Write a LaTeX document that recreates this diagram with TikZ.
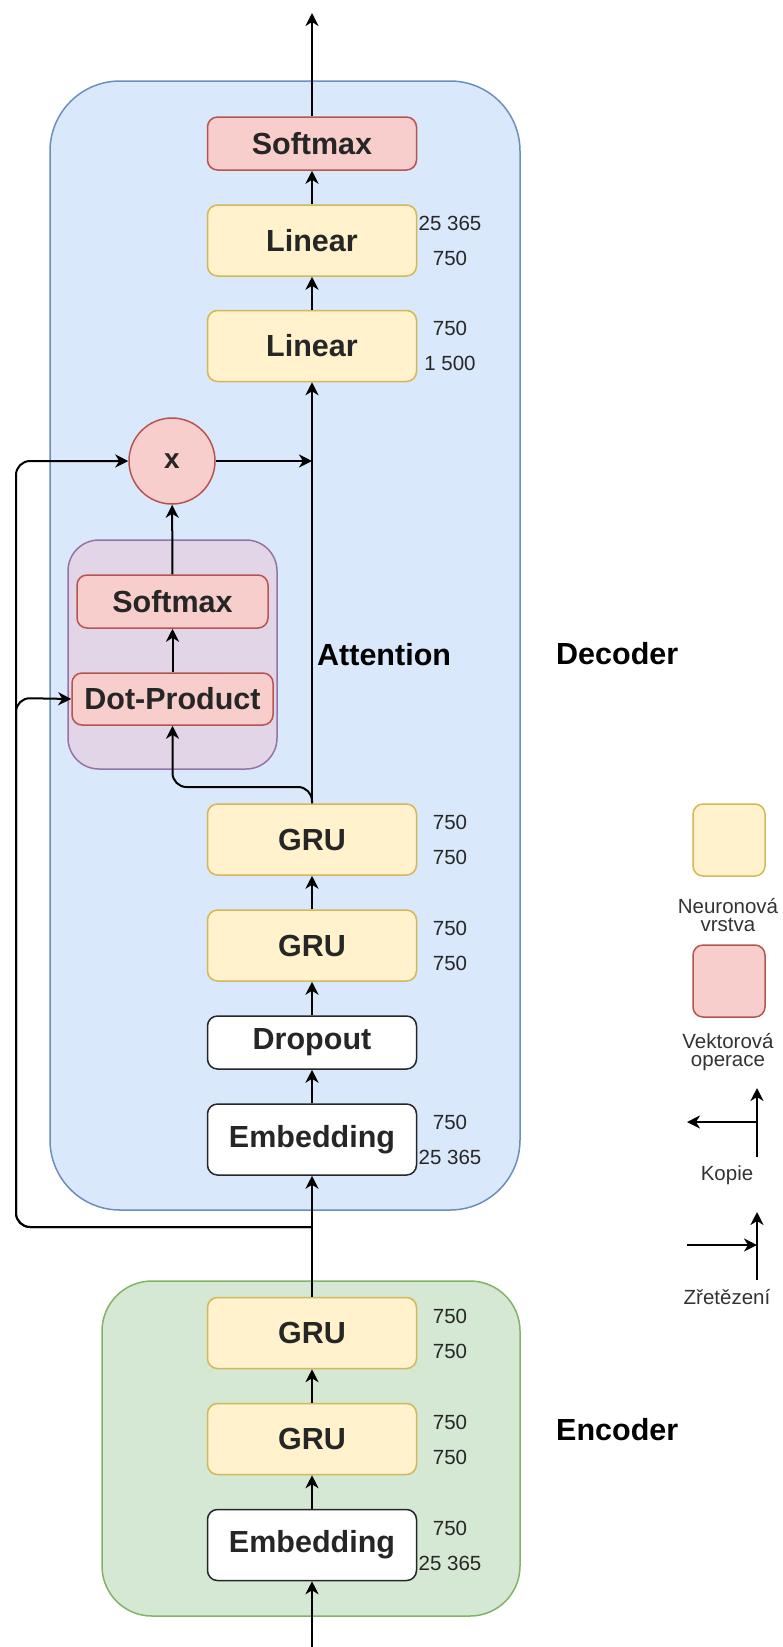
\documentclass[tikz,border=0pt]{standalone}
\usepackage{fontspec}
\setmainfont{Liberation Sans}
\usepackage{tikz}
\usetikzlibrary{arrows.meta}

\definecolor{decfill}{HTML}{DAE8FC}
\definecolor{decline}{HTML}{6C8EBF}
\definecolor{encfill}{HTML}{D5E8D4}
\definecolor{encline}{HTML}{82B366}
\definecolor{ylwfill}{HTML}{FFF2CC}
\definecolor{ylwline}{HTML}{D6B656}
\definecolor{redfill}{HTML}{F8CECC}
\definecolor{redline}{HTML}{B85450}
\definecolor{purfill}{HTML}{E1D5E7}
\definecolor{purline}{HTML}{9673A6}

\newcommand{\boxfont}{\fontsize{30.5}{36}\selectfont\bfseries}
\newcommand{\dimfont}{\fontsize{20.5}{18}\selectfont}

\tikzset{
  blk/.style={rounded corners=10pt, line width=1.5pt, inner sep=0pt, font=\boxfont, text=black!85},
  nnlayer/.style={blk, draw=ylwline, fill=ylwfill},
  vecop/.style={blk, draw=redline, fill=redfill},
  plainbox/.style={blk, draw=black!85, fill=white},
  wide/.style={minimum width=209pt, minimum height=71pt},
  flat/.style={minimum width=209pt, minimum height=53pt},
  dimlab/.style={font=\dimfont, align=center, inner sep=0pt, text=black!85},
  legtxt/.style={font=\dimfont, align=center, inner sep=0pt, text=black!80},
  arr/.style={line width=2pt, -{Stealth[length=13pt, width=13pt, inset=4pt]}},
}

\begin{document}
\begin{tikzpicture}[x=1pt, y=-1pt]
		\useasboundingbox (0,0) rectangle (783,1647);
		% containers
		\filldraw[fill=decfill, draw=decline, line width=1.5pt, rounded corners=70pt] (50,81) rectangle (520,1210);
		\filldraw[fill=encfill, draw=encline, line width=1.5pt, rounded corners=50pt] (102,1281) rectangle (520,1616);
		\filldraw[fill=purfill, draw=purline, line width=1.5pt, rounded corners=31pt] (68,540) rectangle (277,769);
		% decoder
		\node[vecop, flat] (smax) at (312,143.5) {Softmax};
		\node[nnlayer, wide] (lin1) at (312,240.5) {Linear};
		\node[nnlayer, wide] (lin2) at (312,346) {Linear};
		\node[vecop, circle, minimum size=86pt, font=\fontsize{28}{32}\selectfont\bfseries] (mul) at (172,461) {x};
		\node[vecop, minimum width=191pt, minimum height=53pt] (asmax) at (172.5,601.5) {Softmax};
		\node[vecop, minimum width=201pt, minimum height=52pt] (dotp) at (172.5,699) {Dot-Product};
		\node[nnlayer, wide] (dgru1) at (312,839.5) {GRU};
		\node[nnlayer, wide] (dgru2) at (312,945.5) {GRU};
		\node[plainbox, flat] (drop) at (312,1042.5) {Dropout};
		\node[plainbox, wide] (demb) at (312,1139.5) {Embedding};
		% encoder
		\node[nnlayer, wide] (egru1) at (312,1333) {GRU};
		\node[nnlayer, wide] (egru2) at (312,1439) {GRU};
		\node[plainbox, wide] (eemb) at (312,1545) {Embedding};
		% dimensions
		\node[dimlab] (d1a) at (450,223) {25 365};
		\node[dimlab] (d1b) at (450,258) {750};
		\node[dimlab] (d2a) at (450,328) {750};
		\node[dimlab] (d2b) at (450,363) {1 500};
		\node[dimlab] (d3a) at (450,822) {750};
		\node[dimlab] (d3b) at (450,857) {750};
		\node[dimlab] (d4a) at (450,928) {750};
		\node[dimlab] (d4b) at (450,963) {750};
		\node[dimlab] (d5a) at (450,1122) {750};
		\node[dimlab] (d5b) at (450,1157) {25 365};
		\node[dimlab] (d6a) at (450,1316) {750};
		\node[dimlab] (d6b) at (450,1351) {750};
		\node[dimlab] (d7a) at (450,1422) {750};
		\node[dimlab] (d7b) at (450,1457) {750};
		\node[dimlab] (d8a) at (450,1528) {750};
		\node[dimlab] (d8b) at (450,1563) {25 365};
		% titles
		\node[anchor=west, inner sep=0pt, font=\boxfont] (att) at (317,655) {Attention};
		\node[anchor=west, inner sep=0pt, font=\boxfont] (dec) at (556,654) {Decoder};
		\node[anchor=west, inner sep=0pt, font=\boxfont] (enc) at (556,1430) {Encoder};
		% connectors
		\coordinate (in) at (312,1647);
		\coordinate (out) at (312,13);
		\coordinate (split) at (312,1227);
		\coordinate (tap) at (312,787);
		\coordinate (join) at (312,461);
		\draw[arr] (in) -- (eemb);
		\draw[arr] (eemb) -- (egru2);
		\draw[arr] (egru2) -- (egru1);
		\draw[arr] (egru1) -- (demb);
		\draw[arr, rounded corners=14pt] (split) -| (16,461) -- (mul.west);
		\draw[arr, rounded corners=14pt] (split) -| (16,698) -- (dotp.west);
		\draw[arr] (demb) -- (drop);
		\draw[arr] (drop) -- (dgru2);
		\draw[arr] (dgru2) -- (dgru1);
		\draw[arr] (dgru1) -- (lin2);
		\draw[arr, rounded corners=14pt] (dgru1.north) -- (tap) -| (dotp.south);
		\draw[arr] (dotp) -- (asmax);
		\draw[arr] (asmax) -- (mul);
		\draw[arr] (mul) -- (join);
		\draw[arr] (lin2) -- (lin1);
		\draw[arr] (lin1) -- (smax);
		\draw[arr] (smax) -- (out);
		% legend
		\node[nnlayer, minimum size=72pt] (legnn) at (729,840) {};
		\node[legtxt] (legnnt) at (728,915) {Neuronová\\vrstva};
		\node[vecop, minimum size=72pt] (legvo) at (729,981) {};
		\node[legtxt] (legvot) at (728,1052) {Vektorová\\operace};
		\coordinate (kbot) at (757,1157);
		\coordinate (ktop) at (757,1088);
		\coordinate (kmid) at (757,1122);
		\coordinate (kleft) at (687,1122);
		\draw[arr] (kbot) -- (ktop);
		\draw[arr] (kmid) -- (kleft);
		\node[legtxt] (kop) at (727,1175) {Kopie};
		\coordinate (zbot) at (757,1280);
		\coordinate (ztop) at (757,1212);
		\coordinate (zleft) at (687,1245);
		\coordinate (zmid) at (757,1245);
		\draw[arr] (zbot) -- (ztop);
		\draw[arr] (zleft) -- (zmid);
		\node[legtxt] (zret) at (727,1297) {Zřetězení};
\end{tikzpicture}
\end{document}
